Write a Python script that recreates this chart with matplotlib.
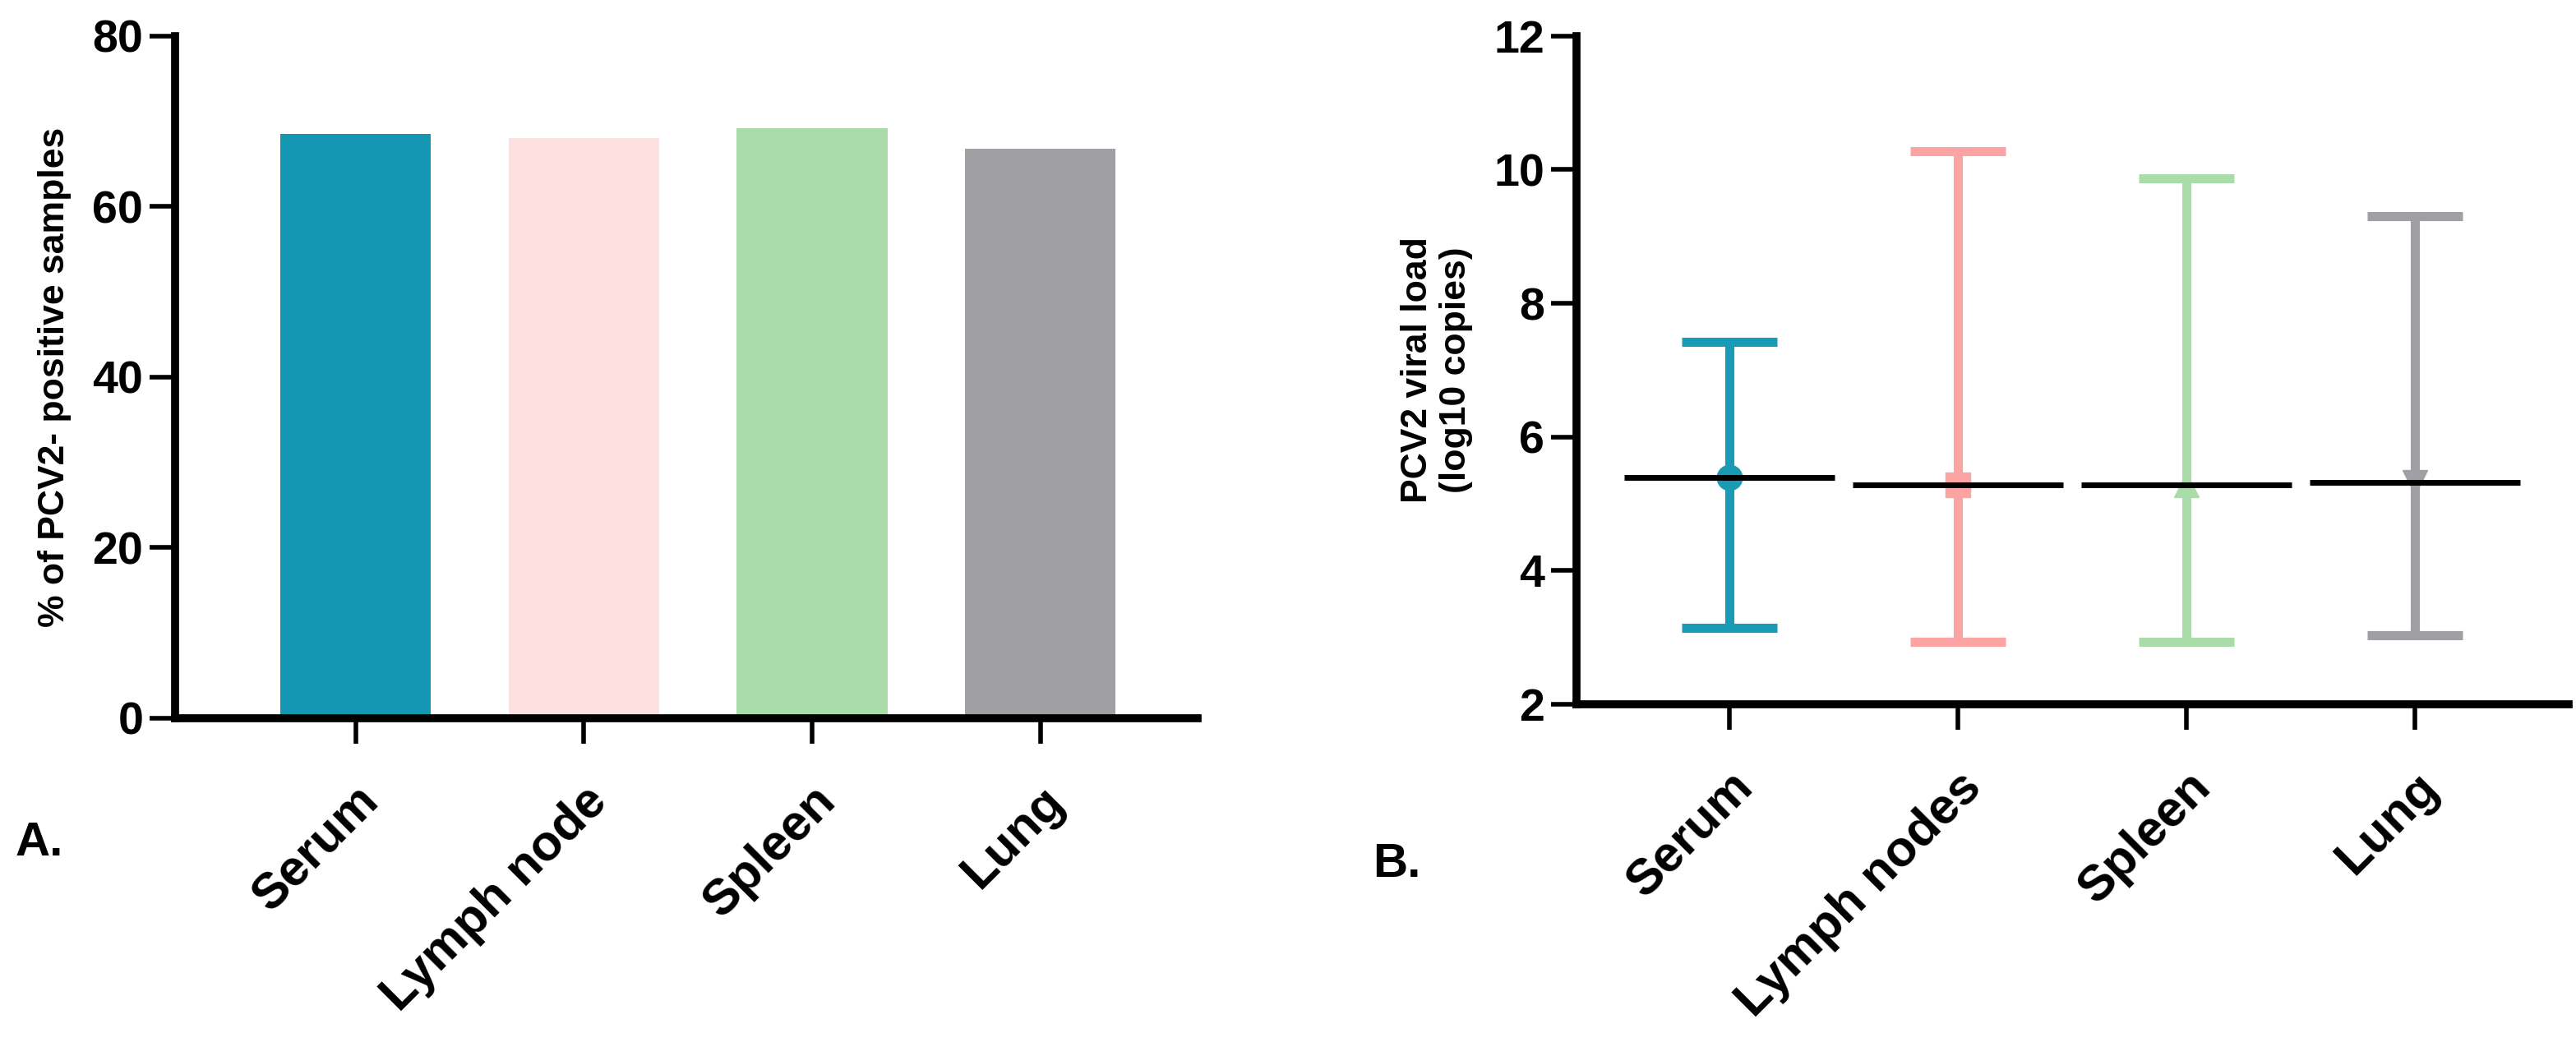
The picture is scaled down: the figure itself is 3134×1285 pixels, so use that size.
import matplotlib.pyplot as plt

plt.rcParams['font.family'] = ['Liberation Sans', 'DejaVu Sans']
plt.rcParams['font.weight'] = 'bold'

# panel A
tissues_a = ["Serum", "Lymph node", "Spleen", "Lung"]
positive_pct = [68.5, 68.0, 69.2, 66.8]
colors_a = ["#1397b2", "#fde0e0", "#aadcaa", "#a0a0a4"]

# panel B
tissues_b = ["Serum", "Lymph nodes", "Spleen", "Lung"]
load_mean = [5.4, 5.28, 5.28, 5.32]
load_min = [3.15, 2.93, 2.93, 3.03]
load_max = [7.42, 10.28, 9.87, 9.3]
colors_b = ["#1a9bb5", "#fca3a3", "#aadcaa", "#a0a0a4"]
markers_b = ["o", "s", "^", "v"]


def style(ax):
    for s in ("top", "right"):
        ax.spines[s].set_visible(False)
    for s in ("left", "bottom"):
        ax.spines[s].set_linewidth(7)
    ax.tick_params(width=4, length=22, labelsize=40, pad=6)
    ax.tick_params(axis="x", labelsize=44, pad=30)


fig = plt.figure(figsize=(31.34, 12.85), dpi=100)

ax1 = fig.add_axes([0.068, 0.32, 0.397, 0.646])
x = range(len(tissues_a))
ax1.bar(x, positive_pct, width=0.66, color=colors_a)
ax1.set_xlim(-0.79, 3.69)
ax1.set_ylim(0, 80)
ax1.set_yticks([0, 20, 40, 60, 80])
ax1.set_xticks(list(x))
ax1.set_xticklabels(tissues_a, rotation=45, ha="right", rotation_mode="anchor", fontweight="bold")
ax1.set_ylabel("% of PCV2- positive samples", fontsize=32, fontweight="bold", labelpad=18)
style(ax1)

ax2 = fig.add_axes([0.612, 0.333, 0.385, 0.633])
for i in range(len(tissues_b)):
    lo = load_mean[i] - load_min[i]
    hi = load_max[i] - load_mean[i]
    ax2.errorbar(i, load_mean[i], yerr=[[lo], [hi]], color=colors_b[i],
                 marker=markers_b[i], markersize=22, elinewidth=8,
                 capsize=42, capthick=8, zorder=2)
    ax2.hlines(load_mean[i], i - 0.46, i + 0.46, color="black", linewidth=5, zorder=3)
ax2.set_xlim(-0.67, 3.67)
ax2.set_ylim(2, 12)
ax2.set_yticks([2, 4, 6, 8, 10, 12])
ax2.set_xticks(range(len(tissues_b)))
ax2.set_xticklabels(tissues_b, rotation=45, ha="right", rotation_mode="anchor", fontweight="bold")
ax2.set_ylabel("PCV2 viral load\n(log10 copies)", fontsize=32, fontweight="bold", labelpad=18)
style(ax2)

fig.text(0.006, 0.19, "A.", fontsize=42, fontweight="bold")
fig.text(0.533, 0.17, "B.", fontsize=42)

fig.savefig("out.png", dpi=100)
